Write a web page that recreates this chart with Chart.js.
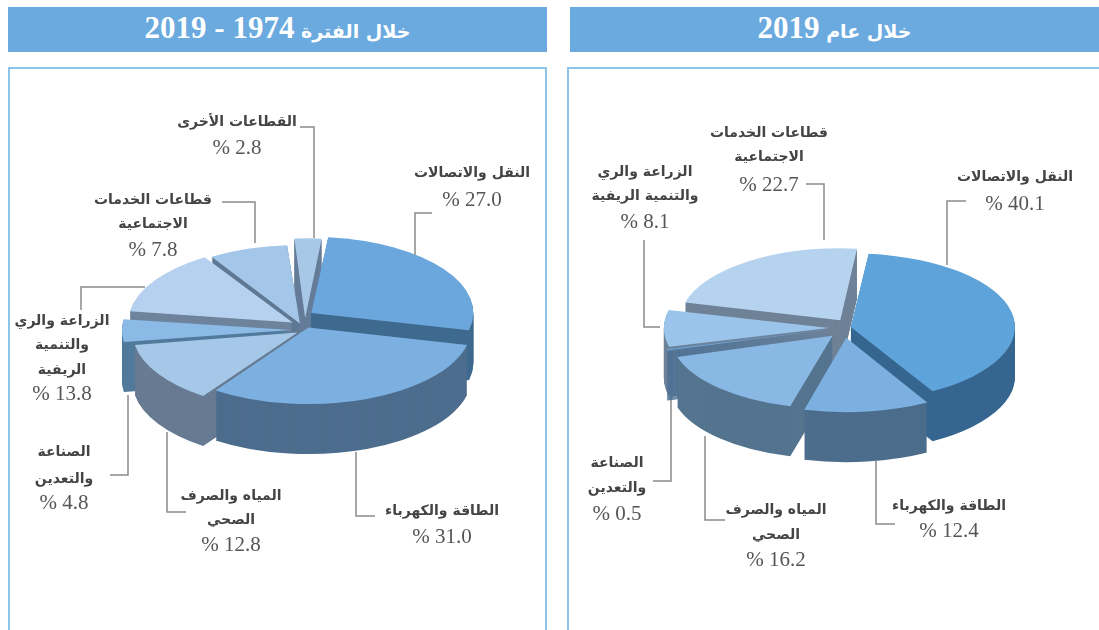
<!DOCTYPE html>
<html lang="ar">
<head>
<meta charset="utf-8">
<script src="https://cdn.jsdelivr.net/npm/chart.js@4"></script>
<style>
html, body { margin: 0; padding: 0; background: #fff; overflow: hidden; }
#page { position: relative; width: 1099px; height: 630px; }
canvas { position: absolute; left: 0; top: 0; }
.head { position: absolute; top: 7px; height: 45px; background: #6aaadf; color: #fff; text-align: center; direction: rtl; font: bold 19px "DejaVu Sans"; line-height: 49px; }
.head b { font: bold 31px "Liberation Serif"; line-height: 1; }
.box { position: absolute; top: 67px; height: 570px; border: 2px solid #8cc4ea; box-sizing: border-box; }
</style>
</head>
<body>
<div id="page">
  <div class="head" style="left:8px;width:539px">خلال الفترة <b>1974 - 2019</b></div>
  <div class="head" style="left:570px;width:529px">خلال عام <b>2019</b></div>
  <div class="box" style="left:8px;width:539px"></div>
  <div class="box" style="left:567px;width:560px"></div>
  <canvas id="chart-period" width="1099" height="630"></canvas>
  <canvas id="chart-year" width="1099" height="630"></canvas>
</div>
<script>
var categoriesPeriod = ["النقل والاتصالات", "الطاقة والكهرباء", "المياه والصرف الصحي", "الصناعة والتعدين", "الزراعة والري والتنمية الريفية", "قطاعات الخدمات الاجتماعية", "القطاعات الأخرى"];
var categoriesYear = ["النقل والاتصالات", "الطاقة والكهرباء", "المياه والصرف الصحي", "الصناعة والتعدين", "الزراعة والري والتنمية الريفية", "قطاعات الخدمات الاجتماعية"];
var valuesPeriod = [27.0, 31.0, 12.8, 4.8, 13.8, 7.8, 2.8];
var valuesYear = [40.1, 12.4, 16.2, 0.5, 8.1, 22.7];

var linesPeriod = [
    ["النقل والاتصالات"],
    ["الطاقة والكهرباء"],
    ["المياه والصرف", "الصحي"],
    ["الصناعة", "والتعدين"],
    ["الزراعة والري", "والتنمية", "الريفية"],
    ["قطاعات الخدمات", "الاجتماعية"],
    ["القطاعات الأخرى"]
];
var linesYear = [
    ["النقل والاتصالات"],
    ["الطاقة والكهرباء"],
    ["المياه والصرف", "الصحي"],
    ["الصناعة", "والتعدين"],
    ["الزراعة والري", "والتنمية الريفية"],
    ["قطاعات الخدمات", "الاجتماعية"]
];

// layout of the text blocks: x centre, y of first line, line step, y of the value
var textPeriod = [[472, 173, 0, 200], [442, 511, 0, 537], [231, 496, 24, 545], [64, 452, 27, 503], [62, 321, 24.5, 394], [153, 200, 24, 250], [237, 122, 0, 148]];
var textYear = [[1015, 177, 0, 204], [949, 506, 0, 531], [776, 510, 25, 560], [617, 463, 25, 514], [645, 172, 24, 222], [769, 133, 24, 185]];

var leadersPeriod = [
    [[432, 213], [415, 213], [415, 255]],
    [[375, 516], [356, 516], [356, 452]],
    [[186, 512], [167, 512], [167, 432]],
    [[110, 475], [128, 475], [128, 395]],
    [[145, 287], [81, 287], [81, 310]],
    [[222, 202], [255, 202], [255, 243]],
    [[300, 127], [314, 127], [314, 238]]
];
var leadersYear = [
    [[966, 201], [947, 201], [947, 265]],
    [[895, 524], [876, 524], [876, 460]],
    [[725, 520], [705, 520], [705, 436]],
    [[653, 481], [671, 481], [671, 400]],
    [[644, 240], [644, 327], [660, 327]],
    [[806, 184], [824, 184], [824, 240]]
];

var topPeriod = ["#6ba7dc", "#7cb0e0", "#a6c8e8", "#8abae5", "#b5d1ef", "#a4c6e8", "#a8c8e8"];
var sidePeriod = ["#3f6a8f", "#4d6d8e", "#677b92", "#527a9c", "#6e839c", "#5f7893", "#667d99"];
var topYear = ["#5ea3d9", "#7bb0e0", "#8ab8e4", "#6aa7dd", "#9ac4e9", "#b5d3ef"];
var sideYear = ["#366690", "#4c6d8c", "#54748f", "#4f7295", "#6d839b", "#6f8297"];

// flattens the pie and stacks copies of each arc to get the thick 3D look
function tiltedPie(cfg) {
    return {
        id: "tiltedPie",
        beforeDatasetsDraw: function (chart) {
            var ctx = chart.ctx;
            var arcs = chart.getDatasetMeta(0).data.slice();
            arcs.sort(function (a, b) {
                return Math.sin((a.startAngle + a.endAngle) / 2) - Math.sin((b.startAngle + b.endAngle) / 2);
            });
            var order = chart.getDatasetMeta(0).data;
            ctx.save();
            ctx.translate(cfg.cx, cfg.cy);
            ctx.scale(1, cfg.squash);
            ctx.translate(-arcs[0].x, -arcs[0].y);
            arcs.forEach(function (arc) {
                var base = arc.options;
                var i = order.indexOf(arc);
                ctx.save();
                ctx.translate(cfg.nudge[i][0], cfg.nudge[i][1] / cfg.squash);
                arc.options = Object.assign({}, base, { backgroundColor: cfg.side[i], borderColor: cfg.side[i], borderWidth: 0 });
                for (var d = cfg.depth; d >= 1; d--) {
                    ctx.save();
                    ctx.translate(0, d / cfg.squash);
                    arc.draw(ctx);
                    ctx.restore();
                }
                arc.options = base;
                arc.draw(ctx);
                ctx.restore();
            });
            ctx.restore();

            ctx.strokeStyle = "#8a8a8a";
            ctx.lineWidth = 1.5;
            cfg.leaders.forEach(function (pts) {
                ctx.beginPath();
                pts.forEach(function (p, k) {
                    if (k === 0) ctx.moveTo(p[0], p[1]); else ctx.lineTo(p[0], p[1]);
                });
                ctx.stroke();
            });

            ctx.direction = "rtl";
            ctx.textAlign = "center";
            ctx.textBaseline = "middle";
            cfg.lines.forEach(function (rows, i) {
                var t = cfg.text[i];
                ctx.fillStyle = "#444";
                ctx.font = "bold 14px 'DejaVu Sans'";
                rows.forEach(function (row, k) {
                    ctx.fillText(row, t[0], t[1] + k * t[2]);
                });
                ctx.fillStyle = "#555";
                ctx.font = "21px 'Liberation Serif'";
                ctx.fillText(cfg.values[i].toFixed(1) + " %", t[0], t[3]);
            });
            return false;
        }
    };
}

function makeChart(id, cats, vals, cfg) {
    new Chart(document.getElementById(id).getContext("2d"), {
        type: "pie",
        data: {
            labels: cats,
            datasets: [{
                data: vals,
                backgroundColor: cfg.top,
                borderWidth: 0,
                offset: cfg.offset
            }]
        },
        options: {
            responsive: false,
            animation: false,
            radius: cfg.radius,
            rotation: cfg.rotation,
            plugins: { legend: { display: false }, tooltip: { enabled: false } }
        },
        plugins: [tiltedPie(cfg)]
    });
}

makeChart("chart-period", categoriesPeriod, valuesPeriod, {
    cx: 298, cy: 322, squash: 0.47, depth: 50, radius: 162, rotation: 6,
    offset: [60, 50, 40, 40, 40, 40, 40],
    nudge: [[1, -5], [6, 0], [8, 8], [3, 8], [3, 3], [5, 6], [7, 1]],
    top: topPeriod, side: sidePeriod, leaders: leadersPeriod, lines: linesPeriod, text: textPeriod, values: valuesPeriod
});
makeChart("chart-year", categoriesYear, valuesYear, {
    cx: 840, cy: 328, squash: 0.45, depth: 50, radius: 160, rotation: 6,
    offset: [40, 70, 60, 40, 40, 40],
    nudge: [[1, 0], [4, 2], [3, 3], [0, 0], [-1, 0], [6, -4]],
    top: topYear, side: sideYear, leaders: leadersYear, lines: linesYear, text: textYear, values: valuesYear
});
</script>
</body>
</html>
